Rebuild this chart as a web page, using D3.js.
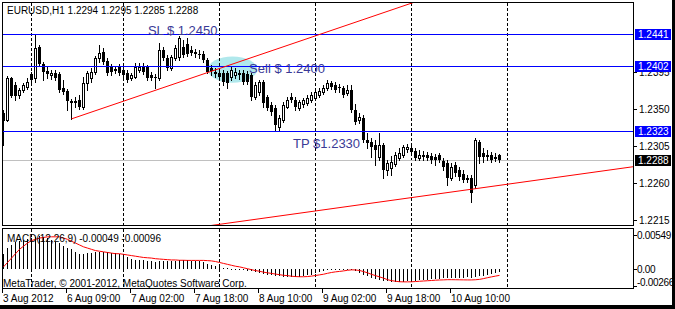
<!DOCTYPE html>
<html>
<head>
<meta charset="utf-8">
<script src="https://cdn.jsdelivr.net/npm/d3@7"></script>
<style>
body { margin: 0; background: #000; }
svg { display: block; }
text { font-family: "Liberation Sans", Arial, sans-serif; }
</style>
</head>
<body>
<script>

// EURUSD H1 candles, 3 Aug 2012 17:00 -> 10 Aug 2012
var opens = [1.2345,1.2337,1.2388,1.2379,1.2367,1.2373,1.2377,1.2393,1.2388,1.2425,
	1.2405,1.2396,1.2391,1.2394,1.2393,1.2376,1.2372,1.2360,1.2360,1.2361,
	1.2352,1.2382,1.2388,1.2395,1.2412,1.2419,1.2408,1.2401,1.2397,1.2401,
	1.2397,1.2394,1.2388,1.2389,1.2397,1.2401,1.2401,1.2391,1.2389,1.2388,
	1.2422,1.2412,1.2400,1.2412,1.2413,1.2425,1.2429,1.2422,1.2419,1.2417,
	1.2417,1.2410,1.2400,1.2395,1.2394,1.2394,1.2394,1.2389,1.2391,1.2394,
	1.2394,1.2393,1.2391,1.2365,1.2371,1.2383,1.2365,1.2355,1.2351,1.2328,
	1.2337,1.2352,1.2365,1.2361,1.2351,1.2356,1.2357,1.2361,1.2363,1.2367,
	1.2371,1.2376,1.2382,1.2379,1.2377,1.2376,1.2369,1.2373,1.2349,1.2337,
	1.2339,1.2312,1.2310,1.2306,1.2292,1.2306,1.2276,1.2278,1.2283,1.2290,
	1.2294,1.2301,1.2303,1.2299,1.2290,1.2294,1.2294,1.2293,1.2292,1.2294,
	1.2287,1.2284,1.2266,1.2282,1.2276,1.2271,1.2266,1.2266,1.2258,1.2310,
	1.2297,1.2294,1.2294,1.2292,1.2294]
var highs = [1.2349,1.2390,1.2389,1.2383,1.2376,1.2382,1.2388,1.2395,1.2440,1.2428,
	1.2407,1.2401,1.2397,1.2397,1.2395,1.2385,1.2374,1.2362,1.2365,1.2367,
	1.2389,1.2396,1.2400,1.2414,1.2428,1.2424,1.2412,1.2405,1.2402,1.2405,
	1.2402,1.2397,1.2394,1.2406,1.2406,1.2406,1.2403,1.2395,1.2393,1.2430,
	1.2425,1.2416,1.2416,1.2428,1.2439,1.2434,1.2436,1.2427,1.2423,1.2422,
	1.2421,1.2412,1.2403,1.2400,1.2397,1.2397,1.2396,1.2401,1.2400,1.2397,
	1.2397,1.2396,1.2394,1.2383,1.2385,1.2385,1.2367,1.2358,1.2355,1.2343,
	1.2358,1.2365,1.2369,1.2365,1.2361,1.2363,1.2367,1.2371,1.2373,1.2376,
	1.2379,1.2385,1.2384,1.2383,1.2380,1.2378,1.2379,1.2379,1.2356,1.2345,
	1.2343,1.2321,1.2315,1.2312,1.2321,1.2309,1.2288,1.2293,1.2298,1.2303,
	1.2306,1.2308,1.2306,1.2303,1.2300,1.2299,1.2298,1.2297,1.2295,1.2297,
	1.2290,1.2288,1.2284,1.2286,1.2279,1.2276,1.2270,1.2270,1.2315,1.2312,
	1.2303,1.2300,1.2298,1.2297,1.2295]
var lows = [1.2306,1.2335,1.2365,1.2361,1.2363,1.2371,1.2374,1.2383,1.2383,1.2402,
	1.2385,1.2388,1.2386,1.2385,1.2371,1.2368,1.2349,1.2338,1.2352,1.2350,
	1.2350,1.2373,1.2383,1.2393,1.2407,1.2405,1.2391,1.2391,1.2394,1.2391,
	1.2389,1.2383,1.2385,1.2388,1.2395,1.2393,1.2385,1.2385,1.2376,1.2385,
	1.2410,1.2397,1.2397,1.2410,1.2410,1.2413,1.2414,1.2416,1.2413,1.2412,
	1.2407,1.2394,1.2391,1.2389,1.2385,1.2379,1.2376,1.2385,1.2388,1.2386,
	1.2380,1.2380,1.2361,1.2362,1.2367,1.2352,1.2349,1.2343,1.2324,1.2324,
	1.2334,1.2351,1.2358,1.2349,1.2349,1.2352,1.2355,1.2358,1.2361,1.2365,
	1.2368,1.2373,1.2374,1.2371,1.2371,1.2365,1.2367,1.2346,1.2332,1.2333,
	1.2310,1.2303,1.2292,1.2282,1.2288,1.2266,1.2270,1.2270,1.2281,1.2288,
	1.2292,1.2298,1.2294,1.2288,1.2288,1.2288,1.2288,1.2284,1.2282,1.2286,
	1.2276,1.2258,1.2264,1.2269,1.2264,1.2261,1.2261,1.2237,1.2254,1.2284,
	1.2286,1.2288,1.2286,1.2287,1.2285]
var closes = [1.2335,1.2388,1.2366,1.2366,1.2373,1.2379,1.2383,1.2385,1.2424,1.2405,
	1.2395,1.2393,1.2394,1.2388,1.2373,1.2371,1.2360,1.2357,1.2357,1.2352,
	1.2382,1.2394,1.2395,1.2412,1.2418,1.2407,1.2394,1.2395,1.2399,1.2394,
	1.2391,1.2385,1.2391,1.2401,1.2401,1.2395,1.2388,1.2388,1.2388,1.2422,
	1.2412,1.2400,1.2413,1.2424,1.2436,1.2416,1.2417,1.2418,1.2417,1.2416,
	1.2410,1.2395,1.2396,1.2393,1.2389,1.2383,1.2382,1.2397,1.2395,1.2391,
	1.2383,1.2383,1.2365,1.2379,1.2383,1.2357,1.2351,1.2346,1.2331,1.2339,
	1.2355,1.2361,1.2361,1.2352,1.2358,1.2361,1.2363,1.2367,1.2371,1.2372,
	1.2376,1.2382,1.2377,1.2373,1.2376,1.2367,1.2373,1.2349,1.2334,1.2340,
	1.2312,1.2309,1.2304,1.2300,1.2306,1.2276,1.2284,1.2286,1.2294,1.2297,
	1.2304,1.2304,1.2298,1.2290,1.2294,1.2292,1.2290,1.2288,1.2288,1.2288,
	1.2279,1.2266,1.2279,1.2272,1.2267,1.2264,1.2264,1.2248,1.2312,1.2292,
	1.2292,1.2292,1.2288,1.2289,1.2288]

// MACD(12,26,9): main (histogram) and signal
var macdMain = [0.00245,0.00335,0.00396,0.00435,0.00456,0.00470,0.00486,0.00495,0.00520,0.00536,
	0.00520,0.00506,0.00470,0.00445,0.00420,0.00370,0.00344,0.00320,0.00270,0.00245,
	0.00245,0.00255,0.00260,0.00270,0.00280,0.00280,0.00270,0.00260,0.00255,0.00245,
	0.00245,0.00190,0.00166,0.00156,0.00150,0.00150,0.00140,0.00130,0.00116,0.00130,
	0.00140,0.00140,0.00140,0.00140,0.00150,0.00150,0.00150,0.00140,0.00140,0.00130,
	0.00116,0.00090,0.00075,0.00055,0.00040,0.00025,0.00015,0.00005,-0.00005,-0.00010,
	-0.00015,-0.00025,-0.00033,-0.00043,-0.00058,-0.00073,-0.00083,-0.00093,-0.00108,-0.00108,
	-0.00118,-0.00118,-0.00118,-0.00118,-0.00115,-0.00108,-0.00098,-0.00083,-0.00058,-0.00043,
	-0.00033,-0.00018,-0.00010,-0.00005,0.00000,-0.00003,-0.00008,-0.00010,-0.00033,-0.00058,
	-0.00083,-0.00108,-0.00133,-0.00158,-0.00173,-0.00183,-0.00193,-0.00198,-0.00198,-0.00198,
	-0.00195,-0.00190,-0.00185,-0.00180,-0.00175,-0.00170,-0.00165,-0.00160,-0.00155,-0.00150,
	-0.00145,-0.00145,-0.00140,-0.00140,-0.00135,-0.00135,-0.00130,-0.00140,-0.00120,-0.00110,
	-0.00100,-0.00090,-0.00075,-0.00060,-0.00049]
var macdSignal = [0.00040,0.00110,0.00180,0.00250,0.00320,0.00370,0.00420,0.00460,0.00480,0.00500,
	0.00510,0.00520,0.00520,0.00520,0.00520,0.00500,0.00480,0.00450,0.00420,0.00390,
	0.00360,0.00340,0.00320,0.00300,0.00290,0.00280,0.00270,0.00260,0.00250,0.00250,
	0.00240,0.00230,0.00220,0.00210,0.00200,0.00190,0.00185,0.00180,0.00170,0.00165,
	0.00160,0.00155,0.00150,0.00150,0.00145,0.00145,0.00143,0.00143,0.00143,0.00143,
	0.00143,0.00140,0.00135,0.00125,0.00110,0.00095,0.00080,0.00065,0.00050,0.00040,
	0.00025,0.00010,-0.00005,-0.00020,-0.00030,-0.00045,-0.00055,-0.00065,-0.00075,-0.00085,
	-0.00095,-0.00100,-0.00110,-0.00115,-0.00118,-0.00118,-0.00115,-0.00108,-0.00098,-0.00088,
	-0.00078,-0.00063,-0.00050,-0.00040,-0.00033,-0.00025,-0.00015,-0.00008,-0.00010,-0.00018,
	-0.00035,-0.00055,-0.00080,-0.00100,-0.00120,-0.00140,-0.00165,-0.00180,-0.00190,-0.00198,
	-0.00200,-0.00200,-0.00199,-0.00195,-0.00190,-0.00186,-0.00182,-0.00178,-0.00173,-0.00170,
	-0.00168,-0.00165,-0.00165,-0.00166,-0.00167,-0.00168,-0.00169,-0.00169,-0.00166,-0.00160,
	-0.00148,-0.00133,-0.00120,-0.00108,-0.00096]

var priceTicks = [1.2395, 1.2350, 1.2305, 1.2260, 1.2215]
var macdTicks = [0.00549, 0.00, -0.00266]
var timeTickBars = [0, 16, 32, 48, 64, 80, 96, 112]
var timeLabels = ["3 Aug 2012", "6 Aug 09:00", "7 Aug 02:00", "7 Aug 18:00", "8 Aug 10:00", "9 Aug 02:00", "9 Aug 18:00", "10 Aug 10:00"]
var daySeparators = [7, 30, 54, 78, 102, 126]

// objects on the chart
var hLines = [1.2441, 1.2402, 1.2323]
var bidPrice = 1.2288
var trend1 = [[17, 1.2338], [78, 1.2439]]
var trend2 = [[78, 1.2226], [109, 1.2247]]
var ellipseBox = [[51.1, 1.2414], [63.4, 1.2382]]
var notes = [
	{label: "SL $ 1.2450", bar: 36.1, price: 1.2440},
	{label: "Sell $ 1.2400", bar: 61.4, price: 1.2394},
	{label: "TP $1.2330", bar: 72.4, price: 1.2303}
]

var W = 675, H = 309
var left = 2.5, right = 633.5, mainTop = 2.5, mainBot = 225.5, subTop = 228.5, subBot = 288.5

var svg = d3.select("body").append("svg").attr("width", W).attr("height", H)
svg.append("rect").attr("width", W).attr("height", H).attr("fill", "#000")
svg.append("rect").attr("width", 672).attr("height", 305).attr("fill", "#fff")

var x = d3.scaleLinear().domain([0, 124]).range([3.5, 499.5])
var y = d3.scaleLinear().domain([1.2215, 1.2350]).range([220, 109])
var ym = d3.scaleLinear().domain([-0.00266, 0.00549]).range([286, 235])

var defs = svg.append("defs")
defs.append("clipPath").attr("id", "mainclip").append("rect")
	.attr("x", left + 0.5).attr("y", mainTop + 0.5).attr("width", right - left - 1).attr("height", mainBot - mainTop - 1)
defs.append("clipPath").attr("id", "subclip").append("rect")
	.attr("x", left + 0.5).attr("y", subTop + 0.5).attr("width", right - left - 1).attr("height", subBot - subTop - 1)

var main = svg.append("g").attr("clip-path", "url(#mainclip)")
var sub = svg.append("g").attr("clip-path", "url(#subclip)")

function px(v) { return Math.round(v) + 0.5 }

// ellipse (background object)
main.append("ellipse")
	.attr("cx", (x(ellipseBox[0][0]) + x(ellipseBox[1][0])) / 2)
	.attr("cy", (y(ellipseBox[0][1]) + y(ellipseBox[1][1])) / 2)
	.attr("rx", (x(ellipseBox[1][0]) - x(ellipseBox[0][0])) / 2)
	.attr("ry", (y(ellipseBox[1][1]) - y(ellipseBox[0][1])) / 2)
	.attr("fill", "#b0e8ec")

// day separators
main.selectAll(".sep").data(daySeparators).enter().append("line")
	.attr("x1", function(d){ return px(x(d) - 0.5) }).attr("x2", function(d){ return px(x(d) - 0.5) })
	.attr("y1", mainTop).attr("y2", mainBot)
	.attr("stroke", "#000").attr("stroke-dasharray", "3,2").attr("shape-rendering", "crispEdges")
sub.selectAll(".sep").data(daySeparators).enter().append("line")
	.attr("x1", function(d){ return px(x(d) - 0.5) }).attr("x2", function(d){ return px(x(d) - 0.5) })
	.attr("y1", subTop).attr("y2", subBot)
	.attr("stroke", "#000").attr("stroke-dasharray", "3,2").attr("shape-rendering", "crispEdges")

// bid line
main.append("line").attr("x1", left).attr("x2", right)
	.attr("y1", px(y(bidPrice))).attr("y2", px(y(bidPrice)))
	.attr("stroke", "#c0c0c0").attr("shape-rendering", "crispEdges")

// candles
var bars = d3.range(opens.length)
var candle = main.selectAll(".candle").data(bars).enter().append("g")
candle.append("line")
	.attr("x1", function(i){ return Math.floor(x(i)) + 0.5 })
	.attr("x2", function(i){ return Math.floor(x(i)) + 0.5 })
	.attr("y1", function(i){ return Math.round(y(highs[i])) })
	.attr("y2", function(i){ return Math.round(y(lows[i])) + 1 })
	.attr("stroke", "#000").attr("shape-rendering", "crispEdges")
candle.append("rect")
	.attr("x", function(i){
		var c = Math.floor(x(i))
		return closes[i] >= opens[i] ? c - 0.5 : c - 1 })
	.attr("y", function(i){
		var t = Math.round(y(Math.max(opens[i], closes[i])))
		return closes[i] >= opens[i] ? t + 0.5 : t })
	.attr("width", function(i){ return closes[i] >= opens[i] ? 2 : 3 })
	.attr("height", function(i){
		var t = Math.round(y(Math.max(opens[i], closes[i])))
		var b = Math.round(y(Math.min(opens[i], closes[i])))
		return Math.max(b - t, 1) })
	.attr("fill", function(i){ return closes[i] >= opens[i] ? "#fff" : "#000" })
	.attr("stroke", function(i){ return closes[i] >= opens[i] ? "#000" : "none" })
	.attr("shape-rendering", "crispEdges")

// horizontal order lines
main.selectAll(".hline").data(hLines).enter().append("line")
	.attr("x1", left).attr("x2", right)
	.attr("y1", function(d){ return px(y(d)) }).attr("y2", function(d){ return px(y(d)) })
	.attr("stroke", "#0000ff").attr("shape-rendering", "crispEdges")

// trend lines (rays to the right)
function ray(pts, fromBar, toBar) {
	var slope = (pts[1][1] - pts[0][1]) / (pts[1][0] - pts[0][0])
	return [[fromBar, pts[0][1] + (fromBar - pts[0][0]) * slope], [toBar, pts[0][1] + (toBar - pts[0][0]) * slope]]
}
var tline = d3.line().x(function(d){ return x(d[0]) }).y(function(d){ return y(d[1]) })
main.append("path").attr("d", tline(ray(trend1, 17, 200))).attr("stroke", "#ff0000").attr("fill", "none")
main.append("path").attr("d", tline(ray(trend2, 20, 200))).attr("stroke", "#ff0000").attr("fill", "none")

// text objects
main.selectAll(".note").data(notes).enter().append("text")
	.attr("x", function(d){ return x(d.bar) }).attr("y", function(d){ return y(d.price) })
	.attr("font-size", 13).attr("fill", "#3a3a96")
	.text(function(d){ return d.label })

// MACD histogram + signal
sub.selectAll(".hist").data(bars).enter().append("line")
	.attr("x1", function(i){ return Math.floor(x(i)) + 0.5 })
	.attr("x2", function(i){ return Math.floor(x(i)) + 0.5 })
	.attr("y1", Math.round(ym(0)))
	.attr("y2", function(i){ var v = Math.round(ym(macdMain[i])); return v === Math.round(ym(0)) ? v + 1 : v })
	.attr("stroke", "#000").attr("shape-rendering", "crispEdges")
sub.append("path")
	.attr("d", d3.line().x(function(i){ return x(i) }).y(function(i){ return ym(macdSignal[i]) })(bars))
	.attr("stroke", "#ff0000").attr("fill", "none")

// frames
svg.append("rect").attr("x", left).attr("y", mainTop).attr("width", right - left).attr("height", mainBot - mainTop)
	.attr("fill", "none").attr("stroke", "#000").attr("shape-rendering", "crispEdges")
svg.append("rect").attr("x", left).attr("y", subTop).attr("width", right - left).attr("height", subBot - subTop)
	.attr("fill", "none").attr("stroke", "#000").attr("shape-rendering", "crispEdges")

// price axis
var yAxis = svg.append("g")
yAxis.selectAll(".tick").data(priceTicks).enter().append("line")
	.attr("x1", right).attr("x2", right + 3)
	.attr("y1", function(d){ return px(y(d)) }).attr("y2", function(d){ return px(y(d)) })
	.attr("stroke", "#000").attr("shape-rendering", "crispEdges")
yAxis.selectAll(".lab").data(priceTicks).enter().append("text")
	.attr("x", 639).attr("y", function(d){ return y(d) }).attr("dy", "0.35em")
	.attr("font-size", 10).attr("fill", "#000")
	.text(function(d){ return d.toFixed(4) })

var boxes = hLines.map(function(d){ return {v: d, fill: "#0000ff"} }).concat([{v: bidPrice, fill: "#000"}])
var box = yAxis.selectAll(".box").data(boxes).enter().append("g")
box.append("rect").attr("x", 635).attr("y", function(d){ return Math.round(y(d.v)) - 5 })
	.attr("width", 36).attr("height", 11).attr("fill", function(d){ return d.fill })
box.append("text").attr("x", 638).attr("y", function(d){ return Math.round(y(d.v)) + 0.5 }).attr("dy", "0.35em")
	.attr("font-size", 10).attr("fill", "#fff")
	.text(function(d){ return d.v.toFixed(4) })

// MACD axis
var mAxis = svg.append("g")
mAxis.selectAll(".tick").data(macdTicks).enter().append("line")
	.attr("x1", right).attr("x2", right + 3)
	.attr("y1", function(d){ return px(ym(d)) }).attr("y2", function(d){ return px(ym(d)) })
	.attr("stroke", "#000").attr("shape-rendering", "crispEdges")
mAxis.selectAll(".lab").data(macdTicks).enter().append("text")
	.attr("x", 637).attr("y", function(d){ return Math.min(ym(d), 282) }).attr("dy", "0.35em")
	.attr("font-size", 10).attr("letter-spacing", "-0.3px").attr("fill", "#000")
	.text(function(d){ return d === 0 ? "0.00" : d.toFixed(5) })

// time axis
var tAxis = svg.append("g")
tAxis.selectAll(".tick").data(timeTickBars).enter().append("line")
	.attr("x1", function(d){ return Math.floor(x(d)) - 0.5 }).attr("x2", function(d){ return Math.floor(x(d)) - 0.5 })
	.attr("y1", subBot).attr("y2", subBot + 4)
	.attr("stroke", "#000").attr("shape-rendering", "crispEdges")
tAxis.selectAll(".lab").data(timeTickBars).enter().append("text")
	.attr("x", function(d){ return Math.floor(x(d)) }).attr("y", 302)
	.attr("font-size", 10).attr("fill", "#000")
	.text(function(d, k){ return timeLabels[k] })

// captions
svg.append("text").attr("x", 7).attr("y", 14).attr("font-size", 10).attr("fill", "#000")
	.text("EURUSD,H1  1.2294 1.2295 1.2285 1.2288")
svg.append("text").attr("x", 7).attr("y", 242).attr("font-size", 10).attr("fill", "#000")
	.text("MACD(12,26,9) -0.00049 -0.00096")
svg.append("text").attr("x", 3).attr("y", 287).attr("font-size", 10).attr("fill", "#000")
	.text("MetaTrader, \u00a9 2001-2012, MetaQuotes Software Corp.")

</script>
</body>
</html>
